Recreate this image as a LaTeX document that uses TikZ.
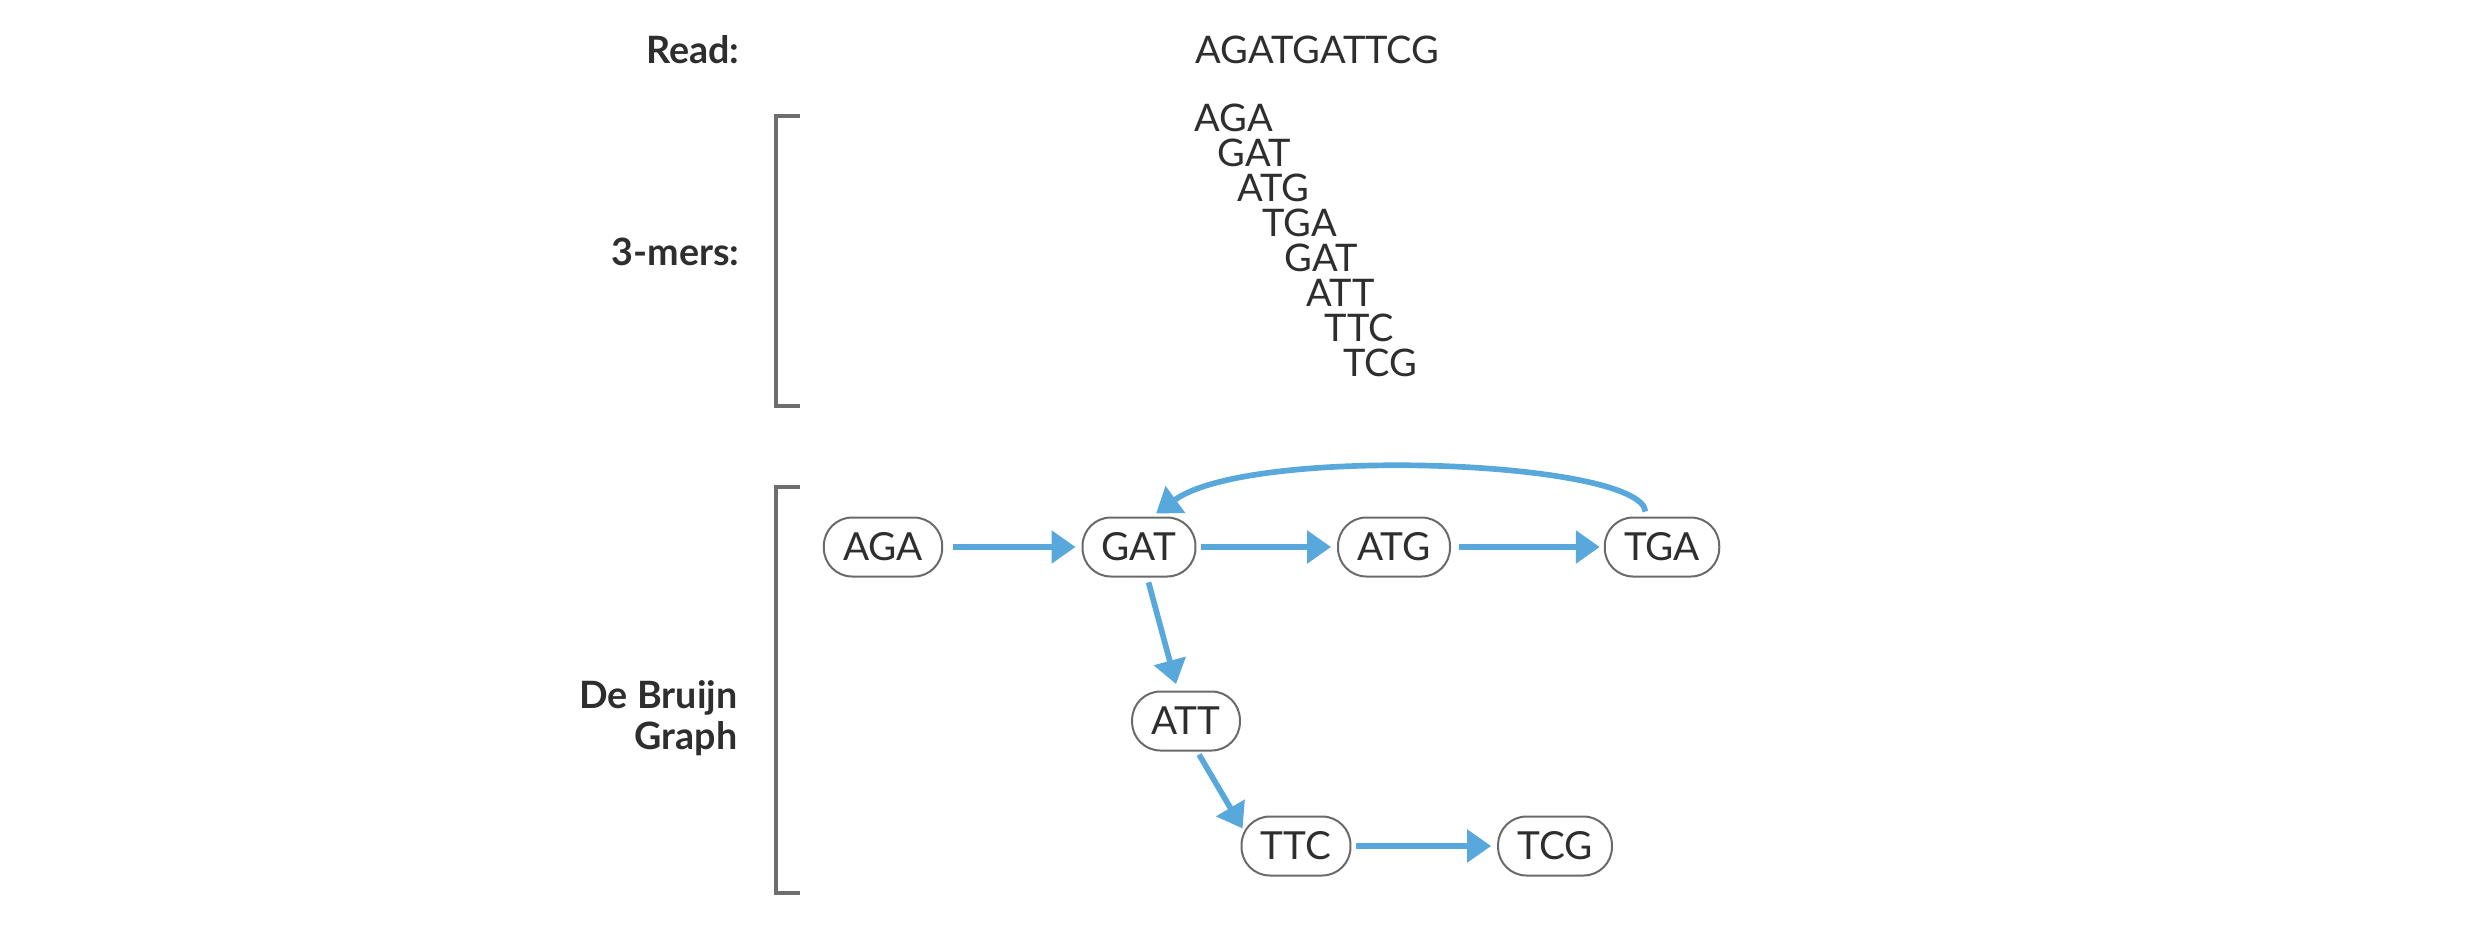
\documentclass[tikz,border=0pt]{standalone}
\usepackage{fontspec}
\setmainfont{Lato}
\usetikzlibrary{arrows.meta}
\definecolor{txt}{HTML}{2E2E2E}
\definecolor{edge}{HTML}{58A8DC}
\definecolor{brk}{HTML}{6E6E6E}
\definecolor{nodeline}{HTML}{6A6A6A}
\begin{document}
\begin{tikzpicture}[x=0.3pt,y=-0.3pt,
  lbl/.style={font=\fontsize{11.3}{12.3}\selectfont\bfseries, text=txt, inner sep=0pt},
  seq/.style={font=\fontsize{11.4}{13}\selectfont, text=txt, inner sep=0pt},
  kmer/.style={draw=nodeline, line width=0.6pt, rounded corners=8.5pt, font=\fontsize{11.6}{13}\selectfont, text=txt, minimum height=17.7pt, inner xsep=5.8pt, inner ysep=0pt},
  arr/.style={draw=edge, line width=1.7pt, -{Triangle[length=7.2pt,width=9.6pt]}},
  brack/.style={draw=brk, line width=1.2pt, line cap=butt, line join=miter}]
\useasboundingbox (0,0) rectangle (2468,949);

% labels
\node[lbl, anchor=base east] (readlbl) at (740,63) {Read:};
\node[lbl, anchor=base east] (merlbl) at (740,265) {3-mers:};
\node[lbl, anchor=east, align=right] (dblbl) at (738,718) {De Bruijn\\Graph};

% read
\node[seq, anchor=base west] (read) at (1195,63) {AGATGATTCG};

% 3-mers
\node[seq, anchor=west] (m1) at (1194,118) {AGA};
\node[seq, anchor=west] (m2) at (1217,153) {GAT};
\node[seq, anchor=west] (m3) at (1237,188) {ATG};
\node[seq, anchor=west] (m4) at (1262,223) {TGA};
\node[seq, anchor=west] (m5) at (1284,258) {GAT};
\node[seq, anchor=west] (m6) at (1306,293) {ATT};
\node[seq, anchor=west] (m7) at (1324,328) {TTC};
\node[seq, anchor=west] (m8) at (1343,363) {TCG};

% brackets
\draw[brack] (800,116) -- (776,116) -- (776,406) -- (800,406);
\draw[brack] (800,487) -- (776,487) -- (776,893) -- (800,893);

% graph nodes
\node[kmer] (AGA) at (883,547) {AGA};
\node[kmer] (GAT) at (1139,547) {GAT};
\node[kmer] (ATG) at (1394,547) {ATG};
\node[kmer] (TGA) at (1662,547) {TGA};
\node[kmer] (ATT) at (1186,721) {ATT};
\node[kmer] (TTC) at (1296,846) {TTC};
\node[kmer] (TCG) at (1555,846) {TCG};

% edges
\draw[arr, shorten <=3pt, shorten >=1.8pt] (AGA) -- (GAT);
\draw[arr, shorten <=1.5pt, shorten >=1.8pt] (GAT) -- (ATG);
\draw[arr, shorten <=2.5pt, shorten >=1.2pt] (ATG) -- (TGA);
\draw[arr, shorten <=1.5pt, shorten >=1.8pt] (TTC) -- (TCG);
\draw[arr, shorten <=1.5pt, shorten >=2pt] (GAT) -- (ATT);
\draw[arr] ([shift={(13,3)}]ATT.south) -- ([shift={(2,13)}]TTC.north west);
\draw[arr, shorten <=1.5pt, shorten >=1.5pt] ([xshift=-4.8pt]TGA.north) .. controls (1640,460) and (1250,445) .. ([xshift=3.9pt]GAT.north);
\end{tikzpicture}
\end{document}
